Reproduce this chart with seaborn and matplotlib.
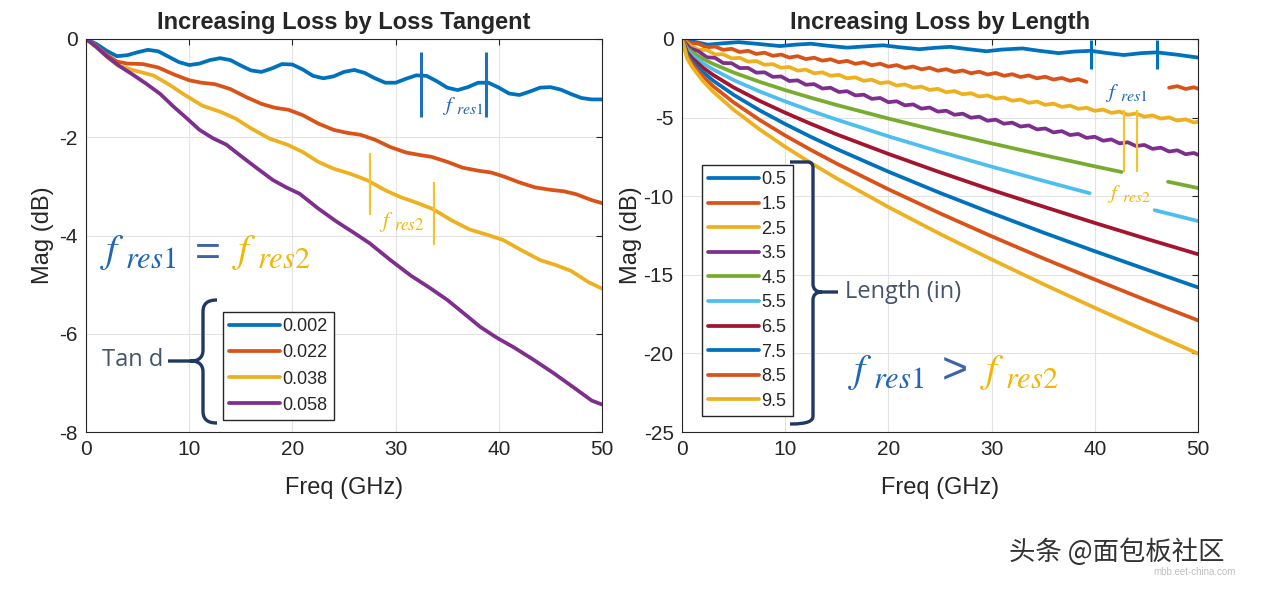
import numpy as np
import matplotlib
matplotlib.use("Agg")
import matplotlib.pyplot as plt
from matplotlib import transforms
from matplotlib.path import Path
from matplotlib.patches import PathPatch
import seaborn as sns

W, H = 1262, 590

# ---------- left panel: loss tangent sweep ----------
tand_labels = ['0.002', '0.022', '0.038', '0.058']

tand002_freq = [0, 1, 2, 3, 4, 5, 6, 7, 8, 9, 10, 11, 12, 13, 14, 15, 16, 17, 18, 19, 20,
                21, 22, 23, 24, 25, 26, 27, 28, 29, 30, 31, 32, 33, 34, 35, 36, 37, 38, 39, 40,
                41, 42, 43, 44, 45, 46, 47, 48, 49, 50]
tand002_mag = [0, -0.10, -0.24, -0.35, -0.33, -0.27, -0.22, -0.25, -0.36, -0.47, -0.53,
               -0.50, -0.43, -0.39, -0.43, -0.54, -0.64, -0.67, -0.60, -0.51, -0.52,
               -0.62, -0.75, -0.80, -0.76, -0.67, -0.63, -0.69, -0.80, -0.89, -0.89,
               -0.81, -0.74, -0.75, -0.86, -0.99, -1.04, -0.98, -0.89, -0.89, -0.99,
               -1.11, -1.14, -1.07, -0.99, -0.98, -1.03, -1.12, -1.20, -1.23, -1.23]

tand022_freq = [0, 1, 2, 3, 4, 5.5, 7, 8.5, 10, 11.2, 12.5, 14, 15.5, 17, 18.3, 19.6, 21, 22.5,
                24, 25.3, 26.6, 28, 29.5, 31, 32.3, 33.5, 35, 36.5, 38, 39.3, 40.5, 42, 43.5,
                45, 46.3, 47.5, 49, 50]
tand022_mag = [0, -0.14, -0.32, -0.46, -0.50, -0.51, -0.58, -0.72, -0.84, -0.89, -0.92, -1.02,
               -1.18, -1.32, -1.40, -1.44, -1.55, -1.72, -1.85, -1.91, -1.95, -2.05, -2.20,
               -2.31, -2.36, -2.40, -2.50, -2.62, -2.68, -2.72, -2.80, -2.92, -3.02, -3.07,
               -3.10, -3.16, -3.28, -3.34]

tand038_freq = [0, 1, 2, 3, 4.5, 6.5, 8, 9.5, 11.3, 13, 14.5, 16, 17.8, 19.5, 21, 22.5, 24,
                25.7, 27.3, 29, 30.5, 32, 33.6, 35.5, 37.2, 38.8, 40.4, 42.2, 44, 45.5, 47,
                48.7, 50]
tand038_mag = [0, -0.17, -0.36, -0.53, -0.63, -0.74, -0.92, -1.13, -1.36, -1.48, -1.62, -1.82,
               -2.03, -2.15, -2.30, -2.50, -2.64, -2.75, -2.88, -3.08, -3.22, -3.33, -3.46,
               -3.70, -3.88, -3.98, -4.09, -4.30, -4.50, -4.60, -4.72, -4.95, -5.08]

tand058_freq = [0, 1, 2, 3.3, 4.5, 5.9, 7.2, 8.5, 9.8, 11, 12.3, 13.6, 15, 16.5, 18.1, 19.4,
                20.7, 22.5, 24.3, 26, 27.5, 29.5, 31.5, 33.2, 35, 36.7, 38.2, 39.8, 41.4, 43.3,
                45.3, 47.3, 49, 50]
tand058_mag = [0, -0.16, -0.35, -0.56, -0.72, -0.92, -1.12, -1.38, -1.62, -1.85, -2.02, -2.15,
               -2.38, -2.62, -2.87, -3.02, -3.15, -3.45, -3.72, -3.95, -4.16, -4.50, -4.82,
               -5.05, -5.31, -5.60, -5.86, -6.08, -6.27, -6.52, -6.80, -7.10, -7.36, -7.44]

# resonance markers (GHz) on the left panel
left_res1_freq = [32.5, 38.8]
left_res2_freq = [27.5, 33.7]

# ---------- right panel: length sweep ----------
length_labels = ['0.5', '1.5', '2.5', '3.5', '4.5', '5.5', '6.5', '7.5', '8.5', '9.5']

len05_freq = [0, 1, 2.5, 4, 5.5, 7.5, 9.5, 11, 12.5, 14, 16, 18, 19.5, 21, 23, 24.5, 26, 27.5,
              29.5, 31, 33, 34.5, 36.5, 38, 39.6, 41, 42.8, 44.5, 46, 48, 50]
len05_mag = [0, -0.15, -0.36, -0.27, -0.20, -0.32, -0.45, -0.36, -0.30, -0.42, -0.55, -0.46,
             -0.40, -0.52, -0.65, -0.56, -0.50, -0.63, -0.78, -0.67, -0.60, -0.74, -0.90,
             -0.80, -0.75, -0.88, -1.02, -0.90, -0.85, -1.00, -1.18]

ripple_freq = [0, 0.8, 1.6, 2.4, 3.2, 4.0, 4.8, 5.6, 6.4, 7.2, 8.0, 8.8, 9.6, 10.4, 11.2, 12.0,
               12.8, 13.6, 14.4, 15.2, 16.0, 16.8, 17.6, 18.4, 19.2, 20.0, 20.8, 21.6, 22.4,
               23.2, 24.0, 24.8, 25.6, 26.4, 27.2, 28.0, 28.8, 29.6, 30.4, 31.2, 32.0, 32.8,
               33.6, 34.4, 35.2, 36.0, 36.8, 37.6, 38.4, 39.2, 40.0, 40.8, 41.6, 42.4, 43.2,
               44.0, 44.8, 45.6, 46.4, 47.2, 48.0, 48.8, 49.6, 50.0]
nan = float('nan')
len15_mag = [0, -0.25, -0.30, -0.53, -0.48, -0.69, -0.62, -0.83, -0.75, -0.95, -0.87, -1.07,
             -0.99, -1.18, -1.09, -1.28, -1.19, -1.38, -1.29, -1.48, -1.39, -1.58, -1.48, -1.67,
             -1.57, -1.76, -1.66, -1.85, -1.75, -1.93, -1.83, -2.02, -1.92, -2.10, -2.00, -2.18,
             -2.08, -2.26, -2.16, -2.34, -2.24, -2.42, -2.32, -2.50, -2.40, -2.58, -2.48, -2.66,
             -2.55, -2.73, nan, nan, nan, nan, nan, nan, nan, nan, nan,
             -3.10, -3.00, -3.18, -3.07, -3.16]
len25_mag = [0, -0.42, -0.69, -0.70, -0.98, -0.97, -1.23, -1.20, -1.44, -1.40, -1.64, -1.60,
             -1.83, -1.78, -2.01, -1.95, -2.18, -2.12, -2.34, -2.28, -2.50, -2.44, -2.66, -2.59,
             -2.81, -2.74, -2.96, -2.89, -3.10, -3.03, -3.24, -3.17, -3.39, -3.31, -3.52, -3.45,
             -3.66, -3.59, -3.79, -3.72, -3.93, -3.85, -4.06, -3.98, -4.19, -4.11, -4.32, -4.24,
             -4.44, -4.37, -4.57, -4.49, -4.70, -4.62, -4.82, -4.74, -4.94, -4.86, -5.06, -4.99,
             -5.19, -5.11, -5.31, -5.27]
len35_mag = [0, -0.59, -0.78, -1.16, -1.20, -1.53, -1.54, -1.85, -1.84, -2.14, -2.12, -2.41,
             -2.38, -2.67, -2.63, -2.91, -2.87, -3.15, -3.10, -3.37, -3.32, -3.59, -3.54, -3.81,
             -3.75, -4.02, -3.96, -4.22, -4.16, -4.43, -4.36, -4.62, -4.56, -4.82, -4.75, -5.01,
             -4.94, -5.20, -5.13, -5.39, -5.32, -5.57, -5.50, -5.75, -5.69, -5.94, -5.86, -6.11,
             -6.04, -6.29, -6.22, -6.47, -6.39, -6.64, -6.57, -6.81, -6.74, -6.99, -6.91, -7.16,
             -7.08, -7.33, -7.25, -7.37]

len45_freq = [0, 0.5, 1, 2, 3, 5, 7.5, 10, 12.5, 15, 20, 25, 30, 35, 40, 42.6, 45, 47.1, 50]
len45_mag = [0, -0.59, -0.85, -1.25, -1.58, -2.13, -2.72, -3.25, -3.74, -4.20, -5.06, -5.87,
             -6.64, -7.38, -8.10, -8.46, nan, -9.08, -9.48]
len55_freq = [0, 0.5, 1, 2, 3, 5, 7.5, 10, 12.5, 15, 20, 25, 30, 35, 39.5, 42, 45.8, 50]
len55_mag = [0, -0.72, -1.04, -1.53, -1.93, -2.61, -3.33, -3.97, -4.57, -5.13, -6.19, -7.18,
             -8.12, -9.02, -9.81, nan, -10.89, -11.58]

smooth_freq = [0, 0.5, 1, 2, 3, 5, 7.5, 10, 12.5, 15, 20, 25, 30, 35, 40, 45, 50]
len65_mag = [0, -0.85, -1.23, -1.81, -2.28, -3.08, -3.93, -4.69, -5.40, -6.07, -7.31, -8.48,
             -9.60, -10.66, -11.70, -12.71, -13.69]
len75_mag = [0, -0.98, -1.42, -2.09, -2.64, -3.55, -4.53, -5.41, -6.23, -7.00, -8.44, -9.79,
             -11.07, -12.31, -13.50, -14.66, -15.80]
len85_mag = [0, -1.11, -1.61, -2.37, -2.99, -4.03, -5.14, -6.14, -7.06, -7.93, -9.56, -11.09,
             -12.55, -13.95, -15.30, -16.62, -17.90]
len95_mag = [0, -1.24, -1.80, -2.65, -3.34, -4.50, -5.74, -6.86, -7.89, -8.87, -10.69, -12.40,
             -14.02, -15.59, -17.10, -18.57, -20.01]

right_res1_freq = [39.6, 46.0]
right_res2_freq = [42.8, 44.1]

matlab = ['#0072BD', '#D95319', '#EDB120', '#7E2F8E', '#77AC30', '#4DBEEE', '#A2142F']

sns.set_style("white")
plt.rcParams['font.family'] = ['Liberation Sans', 'DejaVu Sans']
plt.rcParams['mathtext.fontset'] = 'stix'
plt.rcParams['axes.unicode_minus'] = False

fig = plt.figure(figsize=(W / 100, H / 100), dpi=100)
ax1 = fig.add_axes([86 / W, 1 - 432 / H, 516 / W, 393 / H])
ax2 = fig.add_axes([682 / W, 1 - 432 / H, 516 / W, 393 / H])
renderer = fig.canvas.get_renderer()

# pixel coordinates (y down) -> figure
pix = transforms.Affine2D().scale(1 / W, -1 / H).translate(0, 1) + fig.transFigure


def draw(ax, freq, mag, color):
    f = np.asarray(freq, float)
    m = np.asarray(mag, float)
    ok = np.r_[0, (~np.isnan(m)).astype(int), 0]
    edges = np.flatnonzero(np.diff(ok))
    first = None
    for a, b in zip(edges[::2], edges[1::2]):
        sns.lineplot(x=f[a:b], y=m[a:b], ax=ax, color=color, lw=2.7,
                     sort=False, estimator=None, legend=False)
        if first is None:
            first = ax.lines[-1]
    return first


def style(ax, ylim, yticks, title, ylabelpad):
    ax.set_xlim(0, 50)
    ax.set_ylim(*ylim)
    ax.set_xticks([0, 10, 20, 30, 40, 50])
    ax.set_yticks(yticks)
    ax.grid(True, color='#e3e3e3', lw=0.8)
    ax.set_axisbelow(True)
    for s in ax.spines.values():
        s.set_color('#262626')
        s.set_linewidth(0.8)
    ax.tick_params(direction='in', length=4, top=True, right=True,
                   labelsize=15, colors='#262626', pad=6)
    ax.set_title(title, fontsize=17, fontweight='bold', pad=7)
    ax.set_xlabel('Freq (GHz)', fontsize=17, color='#262626', labelpad=13)
    ax.set_ylabel('Mag (dB)', fontsize=17, color='#262626', labelpad=ylabelpad)


# left panel
left_curves = [(tand002_freq, tand002_mag), (tand022_freq, tand022_mag),
               (tand038_freq, tand038_mag), (tand058_freq, tand058_mag)]
handles = []
for (f, m), c in zip(left_curves, matlab):
    handles.append(draw(ax1, f, m, c))
style(ax1, (-8, 0), [-8, -6, -4, -2, 0], 'Increasing Loss by Loss Tangent', 4)
ax1.legend(handles, tand_labels, loc='upper left', bbox_to_anchor=(0.2655, 0.305),
           borderaxespad=0, fontsize=13, frameon=True, fancybox=False, framealpha=1,
           edgecolor='#262626', handlelength=2.8, handletextpad=0.15, labelspacing=0.5,
           borderpad=0.35)
ax1.vlines(left_res1_freq, -1.59, -0.26, color='#1F6FBF', lw=2.2)
ax1.vlines(left_res2_freq[:1], -3.58, -2.32, color='#F4C430', lw=1.6)
ax1.vlines(left_res2_freq[1:], -4.20, -2.91, color='#F4C430', lw=1.6)

# right panel
right_curves = [(len05_freq, len05_mag), (ripple_freq, len15_mag), (ripple_freq, len25_mag),
                (ripple_freq, len35_mag), (len45_freq, len45_mag), (len55_freq, len55_mag),
                (smooth_freq, len65_mag), (smooth_freq, len75_mag), (smooth_freq, len85_mag),
                (smooth_freq, len95_mag)]
handles = []
for i, (f, m) in enumerate(right_curves):
    handles.append(draw(ax2, f, m, matlab[i % len(matlab)]))
style(ax2, (-25, 0), [-25, -20, -15, -10, -5, 0], 'Increasing Loss by Length', 1)
ax2.legend(handles, length_labels, loc='upper left', bbox_to_anchor=(0.0388, 0.679),
           borderaxespad=0, fontsize=13, frameon=True, fancybox=False, framealpha=1,
           edgecolor='#262626', handlelength=2.8, handletextpad=0.15, labelspacing=0.42,
           borderpad=0.35)
ax2.vlines(right_res1_freq, -1.9, -0.06, color='#0072BD', lw=2.2)
ax2.vlines(right_res2_freq, -8.46, -4.52, color='#F4C430', lw=1.6)

# annotations: f_res labels (f plus a large italic subscript, Cambria-Math-like)
blue_txt, gold_txt, grey_txt = '#1F66B8', '#F2B705', '#3E64A8'


def fres(x, y, num, color, s=1.0):
    t = fig.text(x / W, 1 - y / H, r'$f$', color=color, fontsize=29 * s,
                 ha='left', va='baseline')
    x_end = t.get_window_extent(renderer=renderer).x1
    fig.text((x_end + 0.5) / W, 1 - (y + 6 * s) / H, r'$res\mathrm{%d}$' % num,
             color=color, fontsize=22 * s, ha='left', va='baseline')


fres(442, 111, 1, blue_txt, 0.52)
fres(379, 227, 2, gold_txt, 0.55)
fres(1105, 98, 1, blue_txt, 0.52)
fres(1107, 199, 2, gold_txt, 0.52)

fres(100, 262, 1, blue_txt)
fig.text(208 / W, 1 - 254 / H, '=', color=grey_txt, fontsize=32, ha='center', va='center')
fres(232, 262, 2, gold_txt)
fres(848, 382, 1, blue_txt)
fig.text(955 / W, 1 - 371 / H, '>', color=grey_txt, fontsize=32, ha='center', va='center')
fres(980, 382, 2, gold_txt)

note_kw = dict(fontsize=17, color='#44546A', va='center', family=['Open Sans', 'DejaVu Sans'])
fig.text(102 / W, 1 - 360 / H, 'Tan d', ha='left', **note_kw)
fig.text(845 / W, 1 - 292 / H, 'Length (in)', ha='left', **note_kw)

navy = '#203864'
M, L, C = Path.MOVETO, Path.LINETO, Path.CURVE4
brace_left = Path(
    [(217, 300), (207, 300), (203, 304), (203, 312), (203, 350),
     (203, 357), (199, 361), (191, 361),
     (199, 361), (203, 365), (203, 372), (203, 411),
     (203, 419), (207, 423), (217, 423),
     (168, 361), (191, 361)],
    [M, C, C, C, L, C, C, C, C, C, C, L, C, C, C, M, L])
brace_right = Path(
    [(790, 162), (808, 162), (811, 162), (813, 164), (813, 168), (813, 284),
     (813, 289), (816, 292), (822, 292), (838, 292),
     (822, 292), (816, 292), (813, 295), (813, 300), (813, 416),
     (813, 421), (808, 424), (790, 424)],
    [M, L, C, C, C, L, C, C, C, L, M, C, C, C, L, C, C, C])
for p in (brace_left, brace_right):
    fig.add_artist(PathPatch(p, transform=pix, fill=False, edgecolor=navy, lw=2.4,
                             capstyle='butt', joinstyle='round'))

# watermark
fig.text(1117 / W, 1 - 552 / H, '头条 @面包板社区', fontsize=19, color='#333333',
         ha='center', va='center', family=['Noto Sans CJK SC', 'DejaVu Sans'])
fig.text(1195 / W, 1 - 572 / H, 'mbb.eet-china.com', fontsize=7, color='#c0c0c0',
         ha='center', va='center')

fig.savefig('out.png', dpi=100, facecolor='white')
